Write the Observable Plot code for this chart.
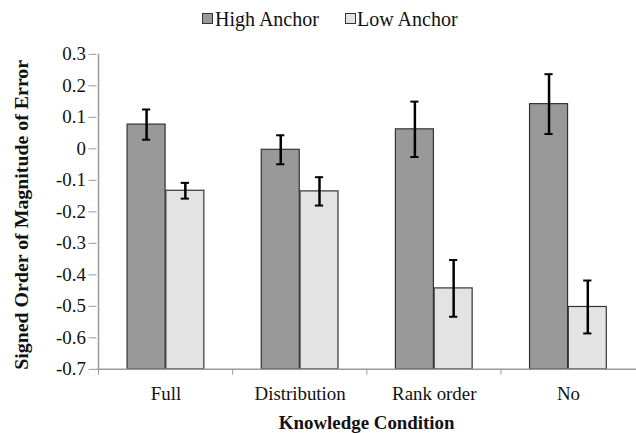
<!DOCTYPE html>
<html>
<head>
<meta charset="utf-8">
<script src="https://cdn.jsdelivr.net/npm/d3@7"></script>
<script src="https://cdn.jsdelivr.net/npm/@observablehq/plot@0.6"></script>
<style>
  html, body { margin: 0; padding: 0; background: #fff; overflow: hidden; width: 636px; height: 433px; }
  #legend { position: relative; height: 30px; width: 636px; font-family: "Liberation Serif", Times, "DejaVu Serif", serif; font-size: 20px; color: #111; }
  .sw { position: absolute; top: 13px; width: 9px; height: 9px; border: 1px solid #333; }
  .lt { position: absolute; top: 9px; line-height: 20px; white-space: nowrap; }
  #chart svg { display: block; }
</style>
</head>
<body>
<div id="legend"></div>
<div id="chart"></div>
<script>
const categories = ["Full", "Distribution", "Rank order", "No"];
const series = ["High Anchor", "Low Anchor"];
const highValues = [0.077, -0.003, 0.062, 0.142];
const lowValues = [-0.133, -0.135, -0.443, -0.502];
const highErrors = [0.048, 0.046, 0.088, 0.095];
const lowErrors = [0.025, 0.045, 0.090, 0.084];
const yTicks = [0.3, 0.2, 0.1, 0, -0.1, -0.2, -0.3, -0.4, -0.5, -0.6, -0.7];
const xTitle = "Knowledge Condition";
const yTitle = "Signed Order of Magnitude of Error";
const colors = ["#999999", "#e3e3e3"];

const yMin = d3.min(yTicks), yMax = d3.max(yTicks);
const high = categories.map((c, i) => ({cond: c, anchor: series[0], value: highValues[i], err: highErrors[i]}));
const low = categories.map((c, i) => ({cond: c, anchor: series[1], value: lowValues[i], err: lowErrors[i]}));

const W = 640, H = 403, mL = 97, mR = 0, mT = 24, mB = 62;
const bw = (W - mL - mR) / categories.length;
const barW = 39;
const half = bw / 2;
const capW = 9;
const fmt = d => Math.abs(d) < 1e-9 ? "0" : d.toFixed(1);
const FONT = '"Liberation Serif", Times, "DejaVu Serif", serif';

// legend
const legend = document.getElementById("legend");
const lpos = [[202, 215], [345, 357]];
series.forEach((s, i) => {
  const sw = document.createElement("div");
  sw.className = "sw"; sw.style.left = lpos[i][0] + "px"; sw.style.background = colors[i];
  const t = document.createElement("div");
  t.className = "lt"; t.style.left = lpos[i][1] + "px"; t.textContent = s;
  legend.appendChild(sw); legend.appendChild(t);
});

const errMarks = (rows, dx) => [
  Plot.ruleX(rows, {x: "cond", y1: d => d.value - d.err, y2: d => d.value + d.err, dx, stroke: "#000", strokeWidth: 2.5}),
  Plot.tickY(rows, {x: "cond", y: d => d.value + d.err, dx, insetLeft: half - capW / 2, insetRight: half - capW / 2, stroke: "#000", strokeWidth: 2}),
  Plot.tickY(rows, {x: "cond", y: d => d.value - d.err, dx, insetLeft: half - capW / 2, insetRight: half - capW / 2, stroke: "#000", strokeWidth: 2})
];

const chart = Plot.plot({
  width: W, height: H,
  marginLeft: mL, marginRight: mR, marginTop: mT, marginBottom: mB,
  style: {fontFamily: FONT, fontSize: "19px", color: "#111", background: "#fff", overflow: "visible"},
  x: {domain: categories, padding: 0, axis: null},
  y: {domain: [yMin, yMax], axis: null},
  marks: [
    Plot.barY(high, {x: "cond", y1: () => yMin, y2: "value", insetLeft: half - barW, insetRight: half, fill: colors[0], stroke: "#333", strokeWidth: 1.2}),
    Plot.barY(low, {x: "cond", y1: () => yMin, y2: "value", insetLeft: half, insetRight: half - barW, fill: colors[1], stroke: "#333", strokeWidth: 1.2}),
    ...errMarks(high, -barW / 2),
    ...errMarks(low, barW / 2),
    Plot.ruleY([yMin], {stroke: "#9a9a9a", strokeWidth: 1.5}),
    Plot.ruleX([categories[0]], {x: d => d, dx: -half, y1: () => yMin, y2: () => yMax, stroke: "#9a9a9a", strokeWidth: 1.5}),
    Plot.axisY({ticks: yTicks, tickSize: 8, tickPadding: 3, tickFormat: fmt, stroke: "#9a9a9a", fill: "#111", label: null}),
    Plot.axisX({tickSize: 6, tickFormat: () => "", dx: -half, stroke: "#9a9a9a", label: null}),
    Plot.axisX({tickSize: 0, tickPadding: 17, fill: "#111", label: null}),
    Plot.text([xTitle], {text: d => d, frameAnchor: "bottom", dy: 60, fontWeight: "bold", fill: "#111"}),
    Plot.text([yTitle], {text: d => d, frameAnchor: "left", textAnchor: "middle", rotate: -90, dx: -76, dy: 3, fontSize: 20, fontWeight: "bold", fill: "#111"})
  ]
});
document.getElementById("chart").appendChild(chart);
</script>
</body>
</html>
